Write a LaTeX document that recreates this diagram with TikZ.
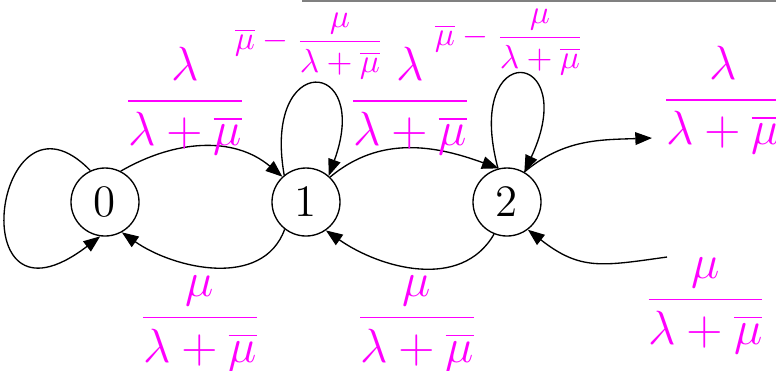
\documentclass[tikz,border=0pt]{standalone}
\usepackage{amsmath,amssymb}
\usepackage{tikz}
\usetikzlibrary{arrows.meta}
\definecolor{RateMagenta}{RGB}{255,0,255}
\definecolor{RuleGray}{RGB}{128,128,128}
\tikzset{
  st/.style={circle,draw=black,fill=white,inner sep=0pt,minimum size=20.4pt,
    font=\fontsize{13.5pt}{16pt}\selectfont},
  edge/.style={draw=black,line width=0.4pt,-{Triangle[length=5pt,width=3.8pt]}},
  rate/.style={text=RateMagenta,inner sep=0pt,font=\fontsize{13.5pt}{16pt}\selectfont},
  looprate/.style={text=RateMagenta,inner sep=0pt,font=\fontsize{10pt}{12pt}\selectfont},
}

\begin{document}
\begin{tikzpicture}[x=3pt,y=3pt]
\useasboundingbox (0,0) rectangle (77.6,37);
\draw[RuleGray,line width=0.6pt] (30.2,36.92)--(77.6,36.92);
% states
\node[st] (n0) at (10.5,16.8) {0};
\node[st] (n1) at (30.6,16.8) {1};
\node[st] (n2) at (50.7,16.8) {2};
\coordinate (outpt) at (65.2,23.2);
\coordinate (inpt) at (66.7,11.3);
% transitions
\draw[edge] (n0.115) .. controls (-0.5,29.8) and (-4.2,2.5) .. (n0.262);
\draw[edge] (n0.63) to[out=30,in=140] (n1.133);
\draw[edge] (n1.232) to[out=250,in=325] (n0.299);
\draw[edge] (n1.129) to[out=100,in=70,distance=38pt] (n1.49);
\draw[edge] (n1.46) to[out=40,in=160] (n2.104);
\draw[edge] (n2.248) to[out=240,in=325] (n1.305);
\draw[edge] (n2.105) to[out=105,in=65,distance=41pt] (n2.60);
\draw[edge] (n2.60) to[out=40,in=182] (outpt);
\draw[edge] (inpt) to[out=188,in=322,looseness=1.2] (n2.307);
% rates
\node[rate] (r01) at (18.5,26.9) {$\dfrac{\lambda}{\lambda+\overline{\mu}}$};
\node[rate] (r12) at (41.0,26.9) {$\dfrac{\lambda}{\lambda+\overline{\mu}}$};
\node[rate] (rout) at (72.3,27.0) {$\dfrac{\lambda}{\lambda+\overline{\mu}}$};
\node[rate] (r10) at (20.0,4.6) {$\dfrac{\mu}{\lambda+\overline{\mu}}$};
\node[rate] (r21) at (41.7,4.6) {$\dfrac{\mu}{\lambda+\overline{\mu}}$};
\node[rate] (rin) at (70.55,6.4) {$\dfrac{\mu}{\lambda+\overline{\mu}}$};
\node[looprate] (r11) at (30.95,32.4) {$\overline{\mu}-\dfrac{\mu}{\lambda+\overline{\mu}}$};
\node[looprate] (r22) at (50.95,32.8) {$\overline{\mu}-\dfrac{\mu}{\lambda+\overline{\mu}}$};
\end{tikzpicture}
\end{document}
